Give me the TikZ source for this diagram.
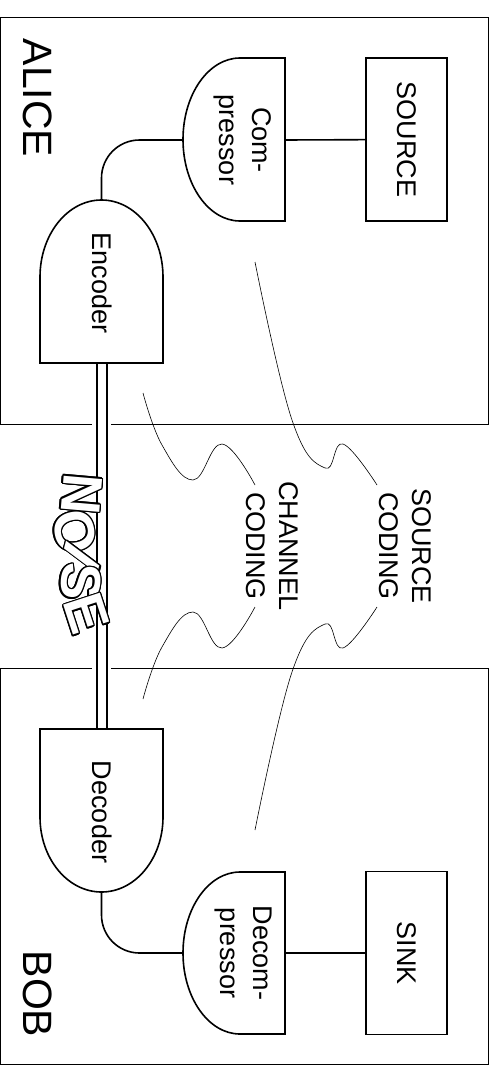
\documentclass[tikz,border=0pt]{standalone}
\usepackage{fontspec}
\setmainfont{Liberation Sans}
\usepackage[copies]{contour}
\contourlength{1.3pt}
\usepackage{tikz}
\usetikzlibrary{calc}

\tikzset{
    party/.style={draw, line width=0.8pt},
    who/.style={rotate=-90, font=\fontsize{41}{45}\selectfont},
    unit/.style={draw, line width=1.6pt, minimum width=81pt,
        minimum height=163pt, inner sep=0pt},
    blk/.style={line width=1.6pt},
    txt/.style={rotate=-90, align=center, inner sep=0pt,
        font=\fontsize{27}{33}\selectfont},
    wire/.style={line width=1.6pt},
    wave/.style={line width=0.6pt},
    noisy/.style={text=white, inner sep=0pt,
        font=\fontsize{56}{56}\selectfont\bfseries}
}

\begin{document}
\begin{tikzpicture}[x=1pt,y=-1pt]

\useasboundingbox (0,0) rectangle (493,1073);

% Alice and Bob
\draw[party] (0.5,17) rectangle (488,424);
\draw[party] (0.5,668) rectangle (488,1064);
\node[who] (alice) at (38,98) {ALICE};
\node[who] (bob) at (38,994) {BOB};

% Source and sink
\node[unit] (source) at (406.5,139.5) {};
\node[txt] (source-lbl) at (source) {SOURCE};
\node[unit] (sink) at (406.5,953) {};
\node[txt] (sink-lbl) at (sink) {SINK};

% Compressor
\draw[blk] (285,58) -- (240,58)
    arc[start angle=-90, end angle=-270, x radius=57, y radius=81.5]
    -- (285,221) -- cycle;
\node[txt] (comp) at (243,140) {Com-\\pressor};
\coordinate (comp-in) at (285,140);
\coordinate (comp-out) at (183,140);

% Decompressor
\draw[blk] (285,872) -- (240,872)
    arc[start angle=-90, end angle=-270, x radius=57, y radius=81]
    -- (285,1034) -- cycle;
\node[txt] (decomp) at (243,953) {Decom-\\pressor};
\coordinate (decomp-out) at (285,953);
\coordinate (decomp-in) at (183,953);

% Encoder
\draw[blk] (40,363) -- (40,277)
    arc[start angle=180, end angle=360, x radius=61.5, y radius=77]
    -- (163,363) -- cycle;
\node[txt] (enc) at (102,283) {Encoder};
\coordinate (enc-top) at (101.5,200);
\coordinate (enc-bot) at (101.5,364);

% Decoder
\draw[blk] (40,729) -- (40,817)
    arc[start angle=180, end angle=0, x radius=61.5, y radius=75]
    -- (163,729) -- cycle;
\node[txt] (dec) at (102,812) {Decoder};
\coordinate (dec-top) at (101.5,728);
\coordinate (dec-bot) at (101.5,892);

% Wires
\draw[wire] (source) -- (comp-in);
\draw[wire, rounded corners=38pt] (comp-out) -| (enc-top);
\draw[wire, rounded corners=38pt] (dec-bot) |- (decomp-in);
\draw[wire] (decomp-out) -- (sink);

% Channel
\draw[white, line width=19pt] (enc-bot) -- (dec-top);
\draw[line width=12pt] (enc-bot) -- (dec-top);
\draw[white, line width=8pt] (enc-bot) -- (dec-top);

% Noise
\node[noisy, rotate=-95] (n1) at (81,494) {\contour{black}{N}};
\node[noisy, rotate=-78] (n2) at (74,532) {\contour{black}{O}};
\node[noisy, rotate=-105, xslant=0.4] (n3) at (82,557) {\contour{black}{I}};
\node[noisy, rotate=-95] (n4) at (80,582) {\contour{black}{S}};
\node[noisy, rotate=-72] (n5) at (86,614) {\contour{black}{E}};

% Coding labels
\node[txt] (srccod) at (405,546) {SOURCE\\CODING};
\node[txt] (chancod) at (272,546) {CHANNEL\\CODING};

% Wavy braces
\draw[wave] plot[smooth, tension=0.7] coordinates
    {(255,262) (292,420) (325,468) (343,444) (377,485)};
\draw[wave] plot[smooth, tension=0.7] coordinates
    {(255,830) (292,672) (325,624) (343,648) (377,607)};
\draw[wave] plot[smooth, tension=0.7] coordinates
    {(143,393) (162,445) (193,480) (222,444) (255,485)};
\draw[wave] plot[smooth, tension=0.7] coordinates
    {(143,699) (162,647) (193,612) (222,648) (255,607)};

\end{tikzpicture}
\end{document}
